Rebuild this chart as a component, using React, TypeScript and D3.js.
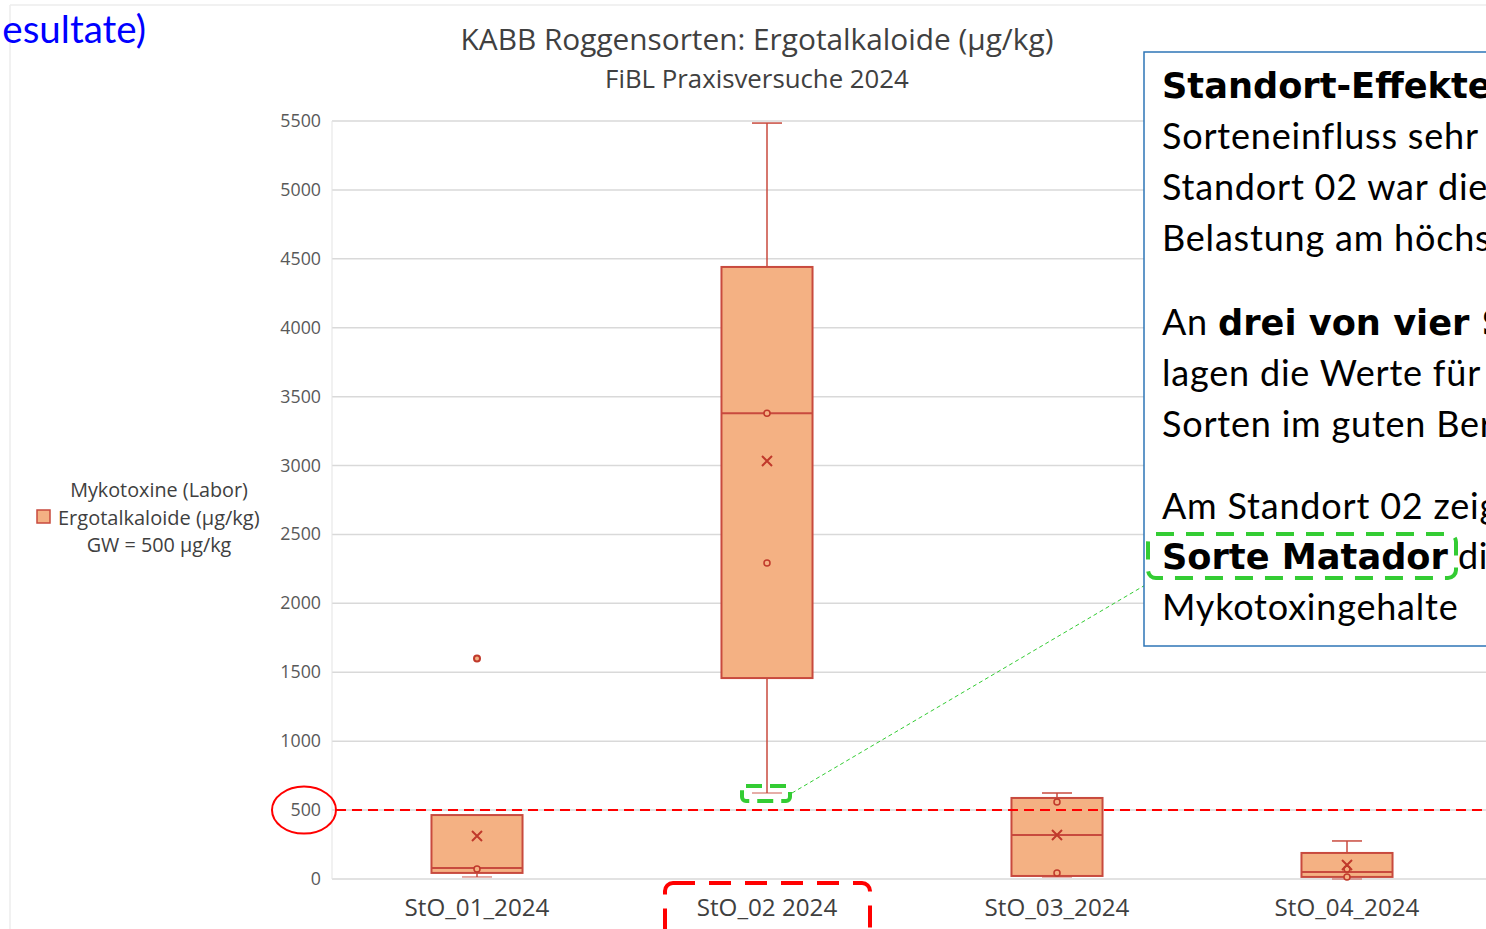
import React from "react";
import * as d3 from "d3";

const categories = ["StO_01_2024", "StO_02 2024", "StO_03_2024", "StO_04_2024"];
const whiskerLow = [15, 624, 15, 0];
const q1 = [44, 1458, 22, 15];
const median = [80, 3379, 319, 51];
const q3 = [464, 4441, 588, 189];
const whiskerHigh = [464, 5485, 624, 276];
const means = [312, 3033, 319, 102];
const innerPoints = [[73], [3379, 2293], [559, 44], [73, 15]];
const outliers = [[1600], [], [], []];
const yTicks = [0, 500, 1000, 1500, 2000, 2500, 3000, 3500, 4000, 4500, 5000, 5500];
const limitValue = 500;

const title = "KABB Roggensorten: Ergotalkaloide (µg/kg)";
const subtitle = "FiBL Praxisversuche 2024";
const legendLines = ["Mykotoxine (Labor)", "Ergotalkaloide (µg/kg)", "GW = 500 µg/kg"];

const FILL = "#F4B183";
const STROKE = "#C84A3E";
const MARK = "#C0392B";
const FONT = "'Open Sans', sans-serif";
const BOXFONT = "Lato, sans-serif";
const BOLDFONT = "'DejaVu Sans', sans-serif";

export default function App() {
  const W = 1486, H = 929;
  const y = d3.scaleLinear().domain([0, 5500]).range([879, 121]);
  const x = d3.scaleBand<string>().domain(categories).range([332, 1492]).paddingInner(0.686).paddingOuter(0.343);
  const bw = x.bandwidth();
  const cx = (c: string) => (x(c) as number) + bw / 2;
  const capW = 30;

  const bold = { fontFamily: BOLDFONT, fontWeight: "bold" as const, fontSize: 35.2, letterSpacing: 0 };

  return (
    <svg width={W} height={H} style={{ position: "absolute", left: 0, top: 0, background: "#fff" }}>
      <rect x={0} y={0} width={W} height={H} fill="#fff" />
      {/* chart frame */}
      <line x1={10} y1={5} x2={W} y2={5} stroke="#EDEDED" strokeWidth={1.5} />
      <line x1={10} y1={5} x2={10} y2={H} stroke="#EDEDED" strokeWidth={1.5} />

      {/* title fragment */}
      <text x={146} y={43} textAnchor="end" fontFamily={BOXFONT} fontSize={38.5} fill="#0000FF">esultate)</text>

      {/* chart title */}
      <text x={757} y={50} textAnchor="middle" fontFamily={FONT} fontSize={29.8} fill="#404040">{title}</text>
      <text x={757} y={88} textAnchor="middle" fontFamily={FONT} fontSize={25.8} fill="#404040">{subtitle}</text>

      {/* gridlines */}
      {yTicks.map((t) => (
        <line key={"g" + t} x1={332} x2={W} y1={y(t)} y2={y(t)} stroke="#D9D9D9" strokeWidth={1.5} />
      ))}
      <line x1={332} x2={332} y1={y(5500)} y2={y(0)} stroke="#E3E3E3" strokeWidth={1} />
      {yTicks.map((t) => (
        <text key={"t" + t} x={321} y={y(t) + 6} textAnchor="end" fontFamily={FONT} fontSize={17.8} fill="#595959">{t}</text>
      ))}

      {/* legend */}
      <text x={159} y={497} textAnchor="middle" fontFamily={FONT} fontSize={19.8} fill="#404040">{legendLines[0]}</text>
      <rect x={37} y={510} width={13} height={13} fill={FILL} stroke={STROKE} strokeWidth={1.5} />
      <text x={58} y={525} fontFamily={FONT} fontSize={20} fill="#404040">{legendLines[1]}</text>
      <text x={159} y={552} textAnchor="middle" fontFamily={FONT} fontSize={19.8} fill="#404040">{legendLines[2]}</text>

      {/* boxes */}
      {categories.map((c, i) => {
        const xc = cx(c);
        const x0 = x(c) as number;
        return (
          <g key={c}>
            <line x1={xc} x2={xc} y1={y(q3[i])} y2={y(whiskerHigh[i])} stroke={STROKE} strokeWidth={1.5} />
            <line x1={xc} x2={xc} y1={y(q1[i])} y2={y(whiskerLow[i])} stroke={STROKE} strokeWidth={1.5} />
            {whiskerHigh[i] > q3[i] && (
              <line x1={xc - capW / 2} x2={xc + capW / 2} y1={y(whiskerHigh[i])} y2={y(whiskerHigh[i])} stroke={STROKE} strokeWidth={1.5} />
            )}
            <line x1={xc - capW / 2} x2={xc + capW / 2} y1={y(whiskerLow[i])} y2={y(whiskerLow[i])} stroke={STROKE} strokeWidth={1.5} opacity={0.6} />
            <rect x={x0} y={y(q3[i])} width={bw} height={y(q1[i]) - y(q3[i])} fill={FILL} stroke={STROKE} strokeWidth={2} />
            <line x1={x0} x2={x0 + bw} y1={y(median[i])} y2={y(median[i])} stroke={STROKE} strokeWidth={2} />
            {innerPoints[i].map((p, j) => (
              <circle key={"p" + j} cx={xc} cy={y(p)} r={3} fill={FILL} stroke={MARK} strokeWidth={1.5} />
            ))}
            {outliers[i].map((p, j) => (
              <circle key={"o" + j} cx={xc} cy={y(p)} r={3} fill={FILL} stroke={MARK} strokeWidth={2} />
            ))}
            <path
              d={`M${xc - 5},${y(means[i]) - 5}L${xc + 5},${y(means[i]) + 5}M${xc - 5},${y(means[i]) + 5}L${xc + 5},${y(means[i]) - 5}`}
              stroke={MARK}
              strokeWidth={2}
            />
            <text x={xc} y={916} textAnchor="middle" fontFamily={FONT} fontSize={24.2} fill="#404040">{c}</text>
          </g>
        );
      })}

      {/* limit line */}
      <line x1={336} x2={W} y1={y(limitValue)} y2={y(limitValue)} stroke="#FF0000" strokeWidth={2} strokeDasharray="10 6" />
      <ellipse cx={304} cy={y(limitValue)} rx={32} ry={23.5} fill="none" stroke="#FF0000" strokeWidth={2} />

      {/* red dashed highlight around category label */}
      <rect x={665} y={883} width={205} height={80} rx={8} fill="none" stroke="#FF0000" strokeWidth={4} strokeDasharray="22 14" />

      {/* green highlight of low whisker */}
      <rect x={742} y={786} width={48} height={15} rx={4} fill="none" stroke="#33CC33" strokeWidth={4} strokeDasharray="16 8" />
      <line x1={792} y1={793} x2={1147} y2={584} stroke="#33CC33" strokeWidth={1} strokeDasharray="4 3" />

      {/* text box */}
      <rect x={1144} y={52} width={400} height={594} fill="#fff" stroke="#2E75B6" strokeWidth={1.5} />
      <g fontFamily={BOXFONT} fontSize={36} fill="#000" letterSpacing={0.8}>
        <text x={1162} y={98} {...bold}>Standort-Effekte</text>
        <text x={1162} y={149}>Sorteneinfluss sehr</text>
        <text x={1162} y={200}>Standort 02 war die</text>
        <text x={1162} y={251}>Belastung am höchsten</text>
        <text x={1162} y={335}>An <tspan {...bold}>drei von vier Standorten</tspan></text>
        <text x={1162} y={386}>lagen die Werte für</text>
        <text x={1162} y={437}>Sorten im guten Bereich</text>
        <text x={1162} y={519}>Am Standort 02 zeigte</text>
        <text x={1162} y={569}><tspan {...bold}>Sorte Matador</tspan> die</text>
        <text x={1162} y={620}>Mykotoxingehalte</text>
      </g>
      <rect x={1148} y={534} width={308} height={44} rx={8} fill="none" stroke="#33CC33" strokeWidth={4} strokeDasharray="18 12" />
    </svg>
  );
}
